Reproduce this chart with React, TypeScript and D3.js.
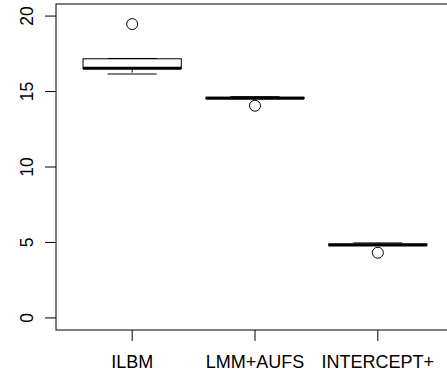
import React from "react";
import * as d3 from "d3";

const categories = ["ILBM", "LMM+AUFS", "INTERCEPT+"];
const lowerWhisker = [16.16, 14.55, 4.81];
const q1 = [16.52, 14.55, 4.81];
const medians = [16.54, 14.55, 4.83];
const q3 = [17.17, 14.62, 4.9];
const upperWhisker = [17.19, 14.66, 4.97];
const outliers = [[19.47], [14.06], [4.32]];
const yTicks = [0, 5, 10, 15, 20];

const W = 447;
const H = 377;

export default function App() {
  const x = d3.scaleLinear().domain([0.38, 3.62]).range([56, 454]);
  const y = d3.scaleLinear().domain([-0.8, 20.8]).range([330, 4]);
  const font = "'Liberation Sans', Arial, Helvetica, sans-serif";
  const boxHalf = 0.4;
  const stapleHalf = 0.2;

  return (
    <svg
      width={W}
      height={H}
      style={{ position: "fixed", left: 0, top: 0, background: "#fff" }}
    >
      <rect x={0} y={0} width={W} height={H} fill="#fff" />
      <rect
        x={x(0.38)}
        y={y(20.8)}
        width={x(3.62) - x(0.38)}
        height={y(-0.8) - y(20.8)}
        fill="none"
        stroke="#000"
        strokeWidth={1}
      />
      {yTicks.map((t) => (
        <g key={t}>
          <line x1={x(0.38)} x2={x(0.38) - 11} y1={y(t)} y2={y(t)} stroke="#000" />
          <text
            transform={`translate(33,${y(t)}) rotate(-90)`}
            textAnchor="middle"
            fontFamily={font}
            fontSize={17.5}
            fill="#000"
          >
            {t}
          </text>
        </g>
      ))}
      {categories.map((c, i) => (
        <g key={c}>
          <line x1={x(i + 1)} x2={x(i + 1)} y1={y(-0.8)} y2={y(-0.8) + 11} stroke="#000" />
          <text
            x={x(i + 1)}
            y={368}
            textAnchor="middle"
            fontFamily={font}
            fontSize={18}
            fill="#000"
          >
            {c}
          </text>
        </g>
      ))}
      {categories.map((c, i) => {
        const cx = x(i + 1);
        const bl = x(i + 1 - boxHalf);
        const br = x(i + 1 + boxHalf);
        const sl = x(i + 1 - stapleHalf);
        const sr = x(i + 1 + stapleHalf);
        return (
          <g key={"box" + c}>
            <line x1={cx} x2={cx} y1={y(upperWhisker[i])} y2={y(q3[i])} stroke="#000" strokeDasharray="4,3" />
            <line x1={cx} x2={cx} y1={y(q1[i])} y2={y(lowerWhisker[i])} stroke="#000" strokeDasharray="4,3" />
            <line x1={sl} x2={sr} y1={y(upperWhisker[i])} y2={y(upperWhisker[i])} stroke="#000" />
            <line x1={sl} x2={sr} y1={y(lowerWhisker[i])} y2={y(lowerWhisker[i])} stroke="#000" />
            <rect
              x={bl}
              y={y(q3[i])}
              width={br - bl}
              height={Math.max(0, y(q1[i]) - y(q3[i]))}
              fill="none"
              stroke="#000"
            />
            <line x1={bl} x2={br} y1={y(medians[i])} y2={y(medians[i])} stroke="#000" strokeWidth={3} />
            {outliers[i].map((o, j) => (
              <circle key={j} cx={cx} cy={y(o)} r={5.5} fill="none" stroke="#000" />
            ))}
          </g>
        );
      })}
    </svg>
  );
}
